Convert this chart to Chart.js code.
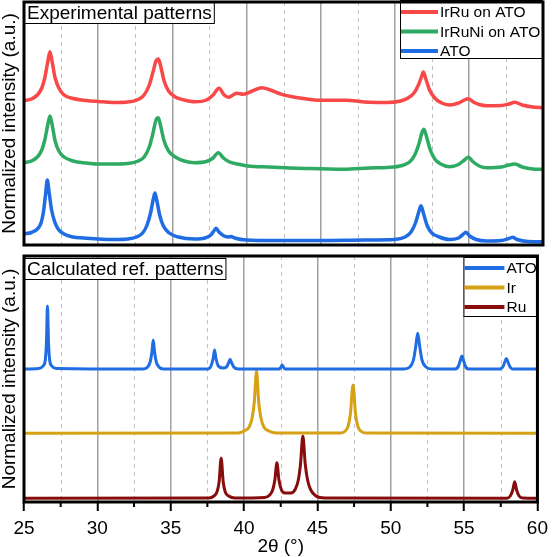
<!DOCTYPE html>
<html>
<head>
<meta charset="utf-8">
<script src="https://cdn.jsdelivr.net/npm/chart.js@4.4.0/dist/chart.umd.min.js"></script>
<style>
  html, body { margin: 0; padding: 0; background: #fff; }
  #wrap { position: relative; width: 554px; height: 557px; }
  #topChart { position: absolute; left: 0; top: 0; }
  #bottomChart { position: absolute; left: 0; top: 250px; }
</style>
</head>
<body>
<div id="wrap">
  <canvas id="topChart" width="554" height="250" style="width:554px;height:250px"></canvas>
  <canvas id="bottomChart" width="554" height="307" style="width:554px;height:307px"></canvas>
</div>
<script>
// ── Data (2θ in degrees, intensity in arbitrary offset units) ───────────────

const xMin = 25, xMax = 60;
const majorTicks = [25, 30, 35, 40, 45, 50, 55, 60];
const minorTicks = [27.5, 32.5, 37.5, 42.5, 47.5, 52.5, 57.5];

// Experimental patterns (top panel)
const irRuOnAto = [
  [25,144.3],[25.5,146],[25.9,150],[26.2,157],[26.4,167],[26.6,183],[26.75,193.3],[26.9,183],[27.1,167],
  [27.35,157],[27.7,150],[28.3,146.5],[29.2,144.5],[30,143.5],[31,142.5],[32,143],[32.7,145.5],[33.1,150],
  [33.45,160],[33.7,173],[33.9,184],[34.06,186],[34.2,180],[34.45,164],[34.75,154],[35.2,148],[35.8,145],
  [36.5,143.3],[37.3,145],[37.75,150],[38.15,156.7],[38.5,150],[38.78,147.7],[39.1,150],[39.34,151.7],
  [39.79,150.7],[40.4,154],[41.03,157.3],[41.6,155],[42.38,150.7],[43,148.5],[43.73,146.7],[45.07,144.7],
  [46.64,144.7],[48.3,142.7],[49.5,142.5],[50.4,144],[50.9,147],[51.3,152],[51.6,160],[51.8,168],[51.93,173],
  [52.1,166],[52.35,155],[52.7,147],[53.1,142.5],[53.7,140],[54.3,142],[54.7,145],[54.96,146.3],[55.3,143],
  [55.7,140.5],[56.2,139.3],[57.2,139.5],[57.7,141],[58.1,142.7],[58.6,140],[59.3,138],[60,137.3]
];
const irRuNiOnAto = [
  [25,82.3],[25.5,84],[25.9,88],[26.2,95],[26.4,105],[26.6,120],[26.75,129],[26.9,120],[27.1,104],
  [27.35,94],[27.7,88],[28.3,84],[29.2,82],[30,81],[31,81],[32,81.5],[32.7,84],[33.1,88],[33.45,98],
  [33.7,112],[33.9,125],[34.06,127.3],[34.2,120],[34.45,104],[34.75,94],[35.2,88],[35.8,84],[36.5,82.3],
  [37.3,83.5],[37.75,87],[38.1,92.3],[38.45,87],[38.8,83.5],[39,82.3],[39.4,81],[40.1,79],[41.5,78],
  [42.6,77.3],[44,76.5],[46.6,75.7],[48.3,77],[49.5,77.5],[50.5,79.5],[51,83],[51.35,90],[51.65,102],
  [51.85,113],[51.97,115.7],[52.15,108],[52.4,95],[52.7,86],[53.1,81],[53.7,78.3],[54.3,80.5],[54.7,85],
  [54.96,87.7],[55.3,83],[55.7,79],[56.2,77.3],[57.2,78],[57.7,80],[58.1,81],[58.6,78],[59.3,76],[60,75.7]
];
const atoExp = [
  [25,11],[25.5,12.5],[25.9,16],[26.15,22],[26.3,32],[26.45,50],[26.57,65],[26.7,52],[26.85,36],[27.05,24],
  [27.3,16],[27.7,11],[28.3,8],[29,7],[30,6],[31,5.5],[32,6],[32.6,8],[33,12],[33.3,20],[33.55,33],[33.72,46],
  [33.83,52],[33.95,45],[34.15,30],[34.4,19],[34.8,12],[35.4,8],[36.5,6],[37.2,7],[37.6,10],[37.85,15],
  [37.95,16.7],[38.15,13],[38.5,9],[38.8,8],[38.96,8.5],[39.2,7],[40,5],[42,4.5],[45,4.5],[48,5],[50,5.5],
  [50.7,8],[51.1,13],[51.4,22],[51.62,33],[51.77,39.3],[51.95,31],[52.2,19],[52.5,12],[53,8],[53.7,5.5],
  [54.3,7],[54.6,10.5],[54.8,12.7],[55.05,9],[55.5,5.5],[56.2,4],[57.2,4.5],[57.7,6.5],[57.95,7.7],
  [58.25,5.5],[59,3.5],[60,3.3]
];

// Calculated reference patterns (bottom panel)
const atoRef = [
  [25,133],[26,133.5],[26.3,136],[26.45,142],[26.53,160],[26.6,196],[26.67,160],[26.75,142],[26.9,136],
  [27.2,133.5],[33.1,133],[33.4,134.5],[33.6,140],[33.72,150],[33.81,162],[33.9,150],[34.02,140],[34.2,135],
  [34.5,133],[37.5,133],[37.75,136],[37.9,144],[37.99,152],[38.08,144],[38.25,136],[38.55,134],[38.8,135],
  [38.97,140],[39.05,142.7],[39.13,140],[39.3,135],[39.6,133],[42.4,133],[42.52,135],[42.6,137],[42.68,135],
  [42.8,133],[50.9,133],[51.3,135],[51.55,142],[51.7,155],[51.84,168.7],[51.98,155],[52.13,142],[52.4,135],
  [52.8,133],[54.4,133],[54.62,136],[54.75,142],[54.85,146],[54.95,142],[55.08,136],[55.3,133],[57.45,133],
  [57.67,136],[57.8,141],[57.88,143.5],[57.96,141],[58.1,136],[58.3,133],[60,133]
];
const irRef = [
  [25,68.7],[39.6,69],[40,71],[40.35,75],[40.55,84],[40.7,100],[40.85,131],[41,100],[41.15,84],[41.35,75],
  [41.7,71],[42.2,69],[46.6,69],[46.9,71],[47.1,76],[47.25,88],[47.43,117],[47.6,88],[47.75,76],[47.95,71],
  [48.3,69],[60,68.7]
];
const ruRef = [
  [25,3.7],[37.6,4],[37.95,6],[38.15,10],[38.3,20],[38.44,43.7],[38.58,20],[38.72,10],[38.95,6],[39.4,4],
  [41.4,4.5],[41.75,7],[41.95,12],[42.1,22],[42.24,39.3],[42.38,22],[42.55,12],[42.8,9],[43.2,9],[43.5,13],
  [43.7,22],[43.85,38],[44.01,66],[44.17,38],[44.33,22],[44.55,12],[44.9,6],[45.5,4],[57.9,3.7],[58.15,6],
  [58.32,12],[58.45,20.3],[58.58,12],[58.75,6],[59,4],[60,3.7]
];

const expLabels = ['IrRu on ATO', 'IrRuNi on ATO', 'ATO'];
const expColors = ['#f84848', '#2eaa63', '#1f6ce3'];
const refLabels = ['ATO', 'Ir', 'Ru'];
const refColors = ['#1f6ce3', '#d6a115', '#870c0c'];

// ── Shared styling ──────────────────────────────────────────────────────────

const FONT = '"Liberation Sans", Arial, sans-serif';
const yTitle = 'Normalized intensity (a.u.)';

// Frame, dashed minor grid, panel caption and boxed legend
const panelDecor = {
  id: 'panelDecor',
  beforeDatasetsDraw(chart) {
    const { ctx, chartArea: a, scales: { x } } = chart;
    ctx.save();
    ctx.strokeStyle = '#c2c2c2';
    ctx.lineWidth = 1;
    ctx.setLineDash([4, 4]);
    minorTicks.forEach(v => {
      const px = Math.round(x.getPixelForValue(v)) + 0.5;
      ctx.beginPath();
      ctx.moveTo(px, a.top);
      ctx.lineTo(px, a.bottom);
      ctx.stroke();
    });
    ctx.restore();
  },
  afterDraw(chart, args, opts) {
    const { ctx, chartArea: a, scales: { x } } = chart;
    ctx.save();

    // minor tick marks below the axis
    if (opts.minorMarks) {
      ctx.strokeStyle = '#000';
      ctx.lineWidth = 2;
      minorTicks.forEach(v => {
        const px = x.getPixelForValue(v);
        ctx.beginPath();
        ctx.moveTo(px, a.bottom);
        ctx.lineTo(px, a.bottom + 5);
        ctx.stroke();
      });
    }

    // panel caption
    ctx.font = `19px ${FONT}`;
    ctx.textBaseline = 'middle';
    ctx.textAlign = 'left';
    const tw = ctx.measureText(opts.caption).width;
    const cx = a.left, cy = a.top + opts.captionTop;
    ctx.fillStyle = '#fff';
    ctx.fillRect(cx, cy, tw + 6, 22);
    ctx.strokeStyle = '#000';
    ctx.lineWidth = 1;
    ctx.strokeRect(cx + 0.5, cy + 0.5, tw + 5, 21);
    ctx.fillStyle = '#000';
    ctx.fillText(opts.caption, cx + 3, cy + 11.5);

    // legend box
    const lg = opts.legend;
    const lx = a.right - lg.width, ly = a.top + lg.top;
    ctx.fillStyle = '#fff';
    ctx.fillRect(lx, ly, lg.width, lg.height);
    ctx.strokeStyle = '#000';
    ctx.lineWidth = 1;
    ctx.strokeRect(lx + 0.5, ly + 0.5, lg.width - 1, lg.height);
    ctx.font = `15.5px ${FONT}`;
    chart.data.datasets.forEach((ds, i) => {
      const ry = ly + lg.firstRow + i * lg.rowGap;
      ctx.strokeStyle = ds.borderColor;
      ctx.lineWidth = 4;
      ctx.beginPath();
      ctx.moveTo(lx + 1, ry);
      ctx.lineTo(lx + lg.sample, ry);
      ctx.stroke();
      ctx.fillStyle = '#000';
      ctx.fillText(ds.label, lx + lg.sample + 2, ry + 1);
    });

    // plot frame
    ctx.strokeStyle = '#000';
    ctx.lineWidth = 3;
    ctx.strokeRect(a.left, a.top, a.right - a.left, a.bottom - a.top);
    ctx.restore();
  },
};

function lineSet(label, data, color, width) {
  return {
    label, data,
    borderColor: color,
    borderWidth: width,
    pointRadius: 0,
    fill: false,
    cubicInterpolationMode: 'monotone',
  };
}

function yAxis(max) {
  return {
    min: 0, max,
    ticks: { display: false },
    grid: { display: false, drawTicks: false },
    border: { display: false },
    title: {
      display: true, text: yTitle, color: '#000',
      font: { family: FONT, size: 19, lineHeight: 1 },
      padding: { top: 0, bottom: 0 },
    },
    afterFit: s => { s.width = 24; },
  };
}

function xAxis(showLabels) {
  return {
    type: 'linear', min: xMin, max: xMax,
    afterBuildTicks: s => { s.ticks = majorTicks.map(v => ({ value: v })); },
    ticks: {
      display: showLabels, color: '#000', padding: 6,
      font: { family: FONT, size: 19 },
    },
    grid: {
      color: '#a0a0a0', lineWidth: 1.5,
      drawTicks: showLabels, tickLength: 9, tickColor: '#000', tickWidth: 2,
    },
    border: { display: false },
    title: {
      display: showLabels, text: '2θ (°)', color: '#000',
      font: { family: FONT, size: 19, lineHeight: 1 },
      padding: { top: 0, bottom: 1 },
    },
    afterFit: s => { s.height = showLabels ? 55 : 5; },
  };
}

const common = {
  responsive: false,
  animation: false,
  events: [],
  plugins: { legend: { display: false }, tooltip: { enabled: false } },
};

// ── Top panel: experimental patterns ───────────────────────────────────────

new Chart(document.getElementById('topChart'), {
  type: 'line',
  data: {
    datasets: [
      lineSet(expLabels[0], irRuOnAto, expColors[0], 3.5),
      lineSet(expLabels[1], irRuNiOnAto, expColors[1], 3.5),
      lineSet(expLabels[2], atoExp, expColors[2], 3.5),
    ],
  },
  options: {
    ...common,
    layout: { padding: { top: 2, right: 11, left: 0, bottom: 0 } },
    scales: { x: xAxis(false), y: yAxis(243) },
    plugins: {
      ...common.plugins,
      panelDecor: {
        caption: 'Experimental patterns', captionTop: 0, minorMarks: false,
        legend: { width: 143, height: 58, top: -2, firstRow: 12, rowGap: 19.5, sample: 38 },
      },
    },
  },
  plugins: [panelDecor],
});

// ── Bottom panel: calculated reference patterns ────────────────────────────

new Chart(document.getElementById('bottomChart'), {
  type: 'line',
  data: {
    datasets: [
      lineSet(refLabels[0], atoRef, refColors[0], 3),
      lineSet(refLabels[1], irRef, refColors[1], 3),
      lineSet(refLabels[2], ruRef, refColors[2], 3),
    ],
  },
  options: {
    ...common,
    layout: { padding: { top: 6, right: 11, left: 0, bottom: 0 } },
    scales: { x: xAxis(true), y: yAxis(246) },
    plugins: {
      ...common.plugins,
      panelDecor: {
        caption: 'Calculated ref. patterns', captionTop: 2, minorMarks: true,
        legend: { width: 74, height: 59, top: 1, firstRow: 11, rowGap: 19.5, sample: 41 },
      },
    },
  },
  plugins: [panelDecor],
});
</script>
</body>
</html>
